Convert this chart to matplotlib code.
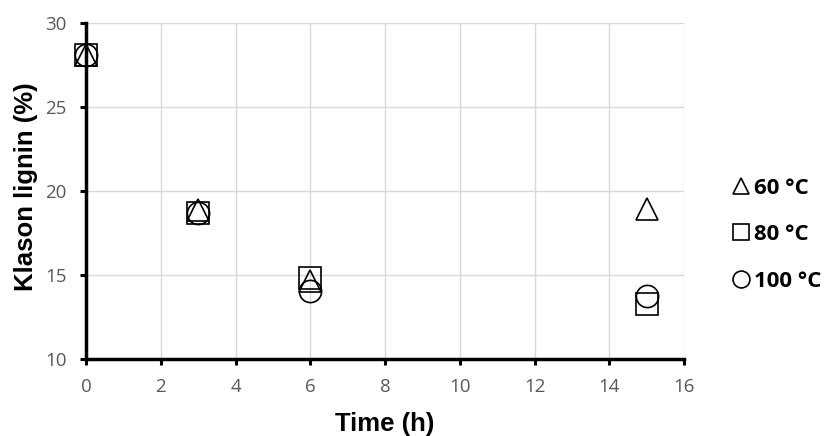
import matplotlib
matplotlib.use('Agg')
import matplotlib.pyplot as plt
import numpy as np

# data
time_h = [0, 3, 6, 15]
lignin_60 = [28.1, 18.85, 14.65, 18.9]
lignin_80 = [28.1, 18.7, 14.8, 13.3]
lignin_100 = [28.1, 18.7, 14.05, 13.75]
labels = ['60 °C', '80 °C', '100 °C']
markers = ['^', 's', 'o']

xticks = np.arange(0, 17, 2)
yticks = np.arange(10, 31, 5)

fig = plt.figure(figsize=(8.28, 4.36), dpi=100)
ax = fig.add_axes([0.1039, 0.1766, 0.7222, 0.7714])

for ys, mk, lab in zip([lignin_60, lignin_80, lignin_100], markers, labels):
    ax.plot(time_h, ys, linestyle='none', marker=mk, markersize=16,
            markerfacecolor='none', markeredgecolor='black',
            markeredgewidth=1.2, label=lab, clip_on=False, zorder=3)

ax.set_xlim(0, 16)
ax.set_ylim(10, 30)
ax.set_xticks(xticks)
ax.set_yticks(yticks)
ax.grid(color='#d9d9d9', linewidth=1.0)
ax.set_axisbelow(True)

for s in ['top', 'right']:
    ax.spines[s].set_visible(False)
for s in ['left', 'bottom']:
    ax.spines[s].set_linewidth(2.5)
    ax.spines[s].set_color('black')

ax.tick_params(axis='both', direction='out', length=4, width=2.2,
               color='black', labelcolor='#595959', labelsize=13.5)
for t in ax.get_xticklabels() + ax.get_yticklabels():
    t.set_family('Open Sans')
ax.tick_params(axis='x', pad=10)
ax.tick_params(axis='y', pad=10)

ax.set_xlabel('Time (h)', family='Liberation Sans', fontweight='bold',
              fontsize=18.5)
ax.set_ylabel('Klason lignin (%)', family='Liberation Sans', fontweight='bold',
              fontsize=18.5)
ax.xaxis.set_label_coords(0.5, -0.158)
ax.yaxis.set_label_coords(-0.081, 0.513)

leg = ax.legend(loc='upper left', bbox_to_anchor=(0.874, 0.613),
                bbox_transform=fig.transFigure, frameon=False,
                markerscale=0.76, handlelength=0.75, handletextpad=0.22,
                labelspacing=1.15, borderaxespad=0,
                prop={'family': 'Open Sans', 'weight': 'bold', 'size': 16})

fig.savefig('out.png', dpi=100)
